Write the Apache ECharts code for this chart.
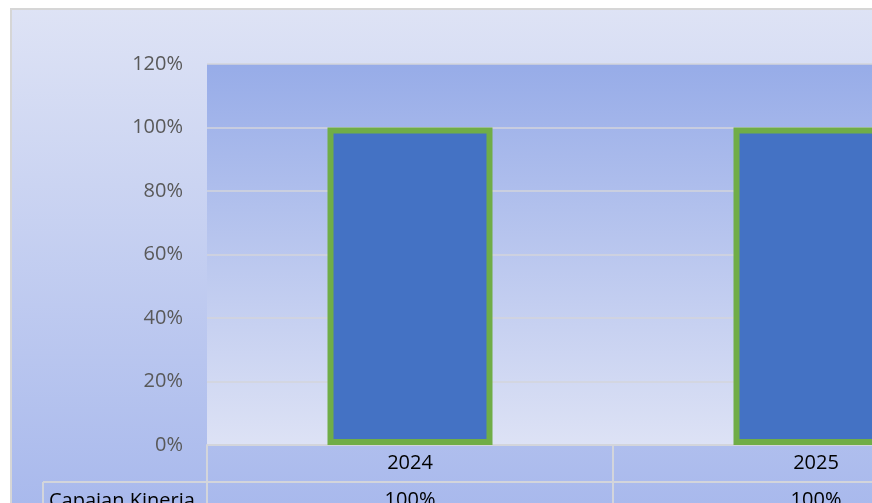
<!DOCTYPE html>
<html>
<head>
<meta charset="utf-8">
<script src="https://cdn.jsdelivr.net/npm/echarts@6/dist/echarts.min.js"></script>
<style>
html, body { margin: 0; padding: 0; background: #fff; }
#chart { width: 872px; height: 503px; }
</style>
</head>
<body>
<div id="chart"></div>
<script>
// data
const years = ['2024', '2025']
const capaianKinerja = [100, 100]
const seriesName = 'Capaian Kinerja'
const yTicks = { min: 0, max: 120, interval: 20 }

const lineGray = '#d3d5db'
const font = 'Open Sans'

const chart = echarts.init(document.getElementById('chart'))
chart.setOption({
  animation: false,
  textStyle: { fontFamily: font },
  grid: {
    left: 207,
    top: 64,
    width: 812,
    bottom: 58,
    outerBoundsMode: 'none',
    show: true,
    borderWidth: 0,
    backgroundColor: new echarts.graphic.LinearGradient(0, 0, 0, 1, [
      { offset: 0, color: '#97ace8' },
      { offset: 1, color: '#dde2f5' }
    ])
  },
  graphic: [
    {
      type: 'rect',
      z: -10,
      shape: { x: 11, y: 9, width: 900, height: 520 },
      style: {
        fill: new echarts.graphic.LinearGradient(0, 0, 0, 1, [
          { offset: 0, color: '#dee3f5' },
          { offset: 1, color: '#a6b7ec' }
        ]),
        stroke: '#d6d6d6',
        lineWidth: 2
      }
    },
    {
      type: 'line',
      z: 10,
      shape: { x1: 43, y1: 482, x2: 207, y2: 482 },
      style: { stroke: lineGray, lineWidth: 2 }
    },
    {
      type: 'line',
      z: 10,
      shape: { x1: 43, y1: 482, x2: 43, y2: 520 },
      style: { stroke: lineGray, lineWidth: 2 }
    },
    {
      type: 'text',
      z: 10,
      x: 49,
      y: 501,
      style: {
        text: seriesName,
        fill: '#000',
        font: '20px "Open Sans"',
        verticalAlign: 'middle'
      }
    }
  ],
  xAxis: [
    {
      type: 'category',
      data: years,
      position: 'bottom',
      axisLine: { show: true, lineStyle: { color: lineGray, width: 2 } },
      axisTick: { show: true, length: 37, lineStyle: { color: lineGray, width: 2 } },
      axisLabel: { color: '#000', fontSize: 20, margin: 8 }
    },
    {
      type: 'category',
      data: capaianKinerja.map(v => v + '%'),
      position: 'bottom',
      offset: 37,
      axisLine: { show: true, lineStyle: { color: lineGray, width: 2 } },
      axisTick: { show: true, length: 40, lineStyle: { color: lineGray, width: 2 } },
      axisLabel: { color: '#000', fontSize: 20, margin: 8 }
    }
  ],
  yAxis: {
    type: 'value',
    min: yTicks.min,
    max: yTicks.max,
    interval: yTicks.interval,
    axisLine: { show: false },
    axisTick: { show: false },
    axisLabel: { color: '#595959', fontSize: 20, margin: 24, formatter: '{value}%' },
    splitLine: { show: true, lineStyle: { color: lineGray, width: 1.5 } }
  },
  series: [
    {
      name: seriesName,
      type: 'bar',
      data: capaianKinerja,
      barWidth: 165,
      itemStyle: {
        color: '#4472c4',
        borderColor: '#70ad47',
        borderWidth: 6
      }
    }
  ]
})
</script>
</body>
</html>
